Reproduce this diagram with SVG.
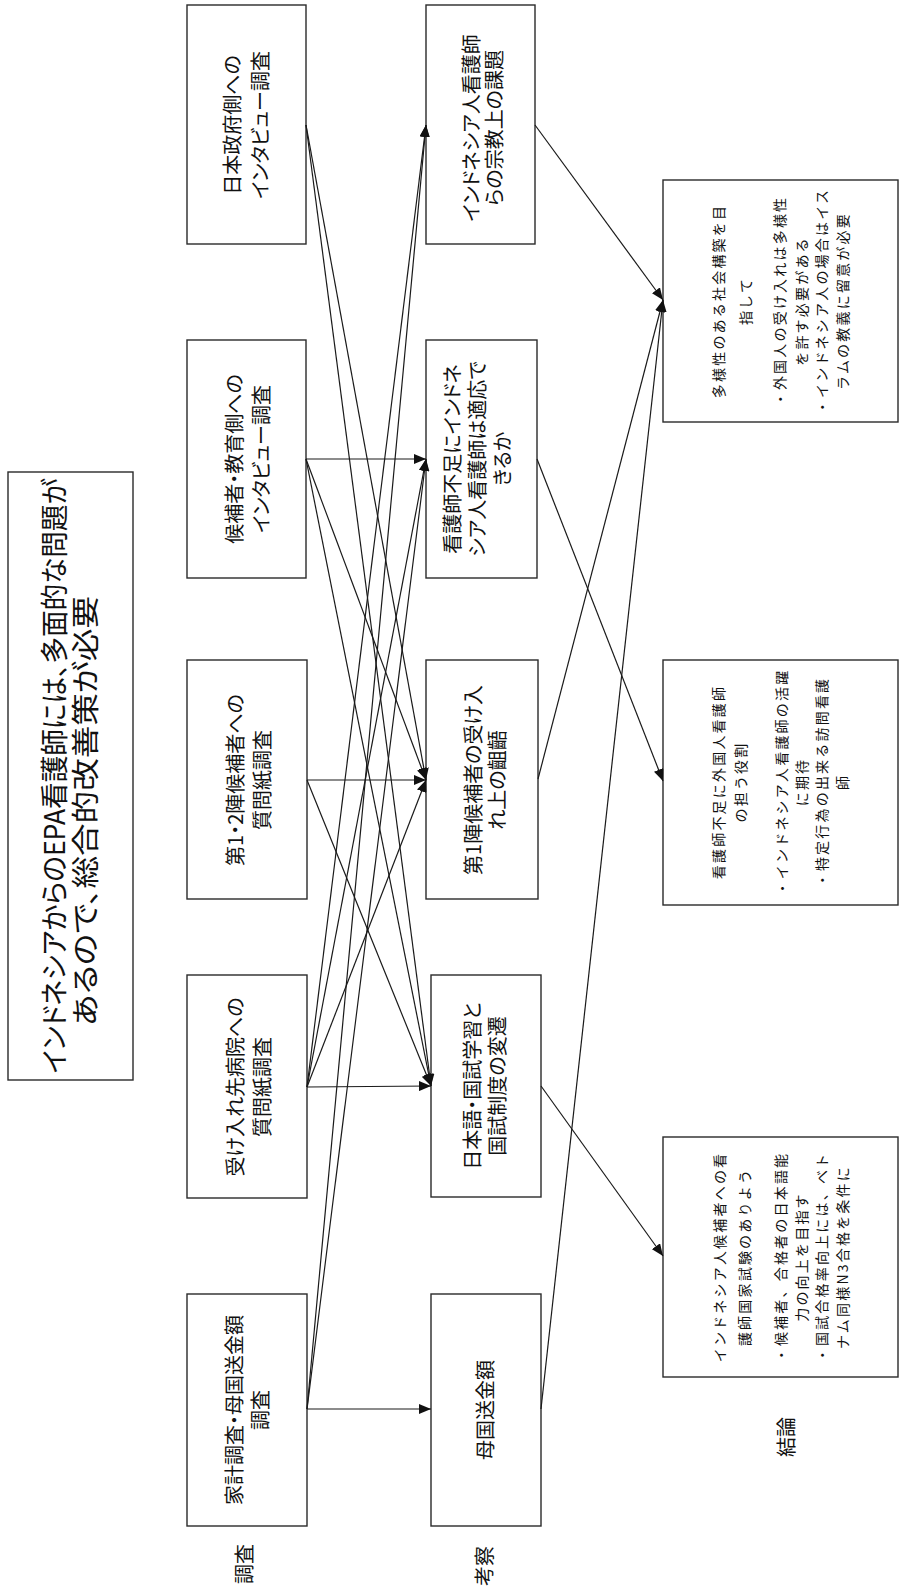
<svg xmlns="http://www.w3.org/2000/svg" width="901" height="1594" viewBox="0 0 901 1594">
<style>
.bg{fill:#fff}
.box{fill:#fff;stroke:#2a2a2a;stroke-width:1.4}
.t{font-family:"Noto Sans CJK JP","Noto Sans CJK SC",sans-serif;fill:#111;text-anchor:middle;font-size:20px;font-feature-settings:"palt"}
.tt{font-size:28px}
.s{font-size:14px;letter-spacing:2.2px;font-feature-settings:normal}
.e{stroke:#1a1a1a;stroke-width:1.2;fill:none;marker-end:url(#ah)}
</style>
<defs>
<marker id="ah" viewBox="0 0 12 10" refX="12" refY="5" markerWidth="12" markerHeight="10" markerUnits="userSpaceOnUse" orient="auto">
<path d="M0,0 L12,5 L0,10 z" fill="#111"/>
</marker>
</defs>
<rect class="bg" x="0" y="0" width="901" height="1594"/>

<g id="title">
<rect class="box" x="8" y="472" width="125" height="608"/>
<text class="t tt" transform="translate(65,776) rotate(-90)" textLength="595" lengthAdjust="spacingAndGlyphs">インドネシアからのEPA看護師には、多面的な問題が</text>
<text class="t tt" transform="translate(96,811) rotate(-90)" textLength="430" lengthAdjust="spacingAndGlyphs">あるので、総合的改善策が必要</text>
</g>

<g id="label-chosa"><text class="t" transform="translate(252,1564) rotate(-90)">調査</text></g>
<g id="label-kosatsu"><text class="t" transform="translate(492,1566) rotate(-90)">考察</text></g>
<g id="label-ketsuron"><text class="t" transform="translate(794,1437) rotate(-90)">結論</text></g>

<g id="s1">
<rect class="box" x="187" y="5" width="119" height="239"/>
<text class="t" transform="translate(239.6,125) rotate(-90)">日本政府側への</text>
<text class="t" transform="translate(267.6,125) rotate(-90)">インタビュー調査</text>
</g>
<g id="s2">
<rect class="box" x="187" y="340" width="119" height="238"/>
<text class="t" transform="translate(241.6,459) rotate(-90)">候補者・教育側への</text>
<text class="t" transform="translate(268.6,459) rotate(-90)">インタビュー調査</text>
</g>
<g id="s3">
<rect class="box" x="187" y="660" width="120" height="239"/>
<text class="t" transform="translate(242.6,780) rotate(-90)">第1・2陣候補者への</text>
<text class="t" transform="translate(269.6,780) rotate(-90)">質問紙調査</text>
</g>
<g id="s4">
<rect class="box" x="187" y="975" width="120" height="223"/>
<text class="t" transform="translate(242.6,1087) rotate(-90)">受け入れ先病院への</text>
<text class="t" transform="translate(269.6,1087) rotate(-90)">質問紙調査</text>
</g>
<g id="s5">
<rect class="box" x="187" y="1294" width="120" height="232"/>
<text class="t" transform="translate(241.6,1410) rotate(-90)">家計調査・母国送金額</text>
<text class="t" transform="translate(267.6,1410) rotate(-90)">調査</text>
</g>

<g id="k1">
<rect class="box" x="426" y="5" width="109" height="239"/>
<text class="t" transform="translate(478.6,128) rotate(-90)">インドネシア人看護師</text>
<text class="t" transform="translate(501.6,128) rotate(-90)">らの宗教上の課題</text>
</g>
<g id="k2">
<rect class="box" x="426" y="340" width="111" height="238"/>
<text class="t" transform="translate(459.6,459) rotate(-90)">看護師不足にインドネ</text>
<text class="t" transform="translate(484.6,459) rotate(-90)">シア人看護師は適応で</text>
<text class="t" transform="translate(509.6,459) rotate(-90)">きるか</text>
</g>
<g id="k3">
<rect class="box" x="426" y="660" width="112" height="239"/>
<text class="t" transform="translate(480.6,780) rotate(-90)">第1陣候補者の受け入</text>
<text class="t" transform="translate(504.6,780) rotate(-90)">れ上の齟齬</text>
</g>
<g id="k4">
<rect class="box" x="431" y="975" width="110" height="222"/>
<text class="t" transform="translate(479.6,1086) rotate(-90)">日本語・国試学習と</text>
<text class="t" transform="translate(504.6,1086) rotate(-90)">国試制度の変遷</text>
</g>
<g id="k5">
<rect class="box" x="431" y="1294" width="110" height="232"/>
<text class="t" transform="translate(492.6,1410) rotate(-90)">母国送金額</text>
</g>

<g id="c1">
<rect class="box" x="663" y="180" width="235" height="242"/>
<text class="t s" transform="translate(724,301) rotate(-90)">多様性のある社会構築を目</text>
<text class="t s" transform="translate(751,301) rotate(-90)">指して</text>
<text class="t s" transform="translate(785,301) rotate(-90)">・外国人の受け入れは多様性</text>
<text class="t s" transform="translate(807,301) rotate(-90)">を許す必要がある</text>
<text class="t s" transform="translate(827,301) rotate(-90)">・インドネシア人の場合はイス</text>
<text class="t s" transform="translate(848,301) rotate(-90)">ラムの教義に留意が必要</text>
</g>
<g id="c2">
<rect class="box" x="663" y="660" width="235" height="245"/>
<text class="t s" transform="translate(724,782) rotate(-90)">看護師不足に外国人看護師</text>
<text class="t s" transform="translate(746,782) rotate(-90)">の担う役割</text>
<text class="t s" transform="translate(787,782) rotate(-90)">・インドネシア人看護師の活躍</text>
<text class="t s" transform="translate(807,782) rotate(-90)">に期待</text>
<text class="t s" transform="translate(827,782) rotate(-90)">・特定行為の出来る訪問看護</text>
<text class="t s" transform="translate(848,782) rotate(-90)">師</text>
</g>
<g id="c3">
<rect class="box" x="663" y="1137" width="235" height="240"/>
<text class="t s" transform="translate(725,1257) rotate(-90)">インドネシア人候補者への看</text>
<text class="t s" transform="translate(750,1257) rotate(-90)">護師国家試験のありよう</text>
<text class="t s" transform="translate(786,1257) rotate(-90)">・候補者、合格者の日本語能</text>
<text class="t s" transform="translate(807,1257) rotate(-90)">力の向上を目指す</text>
<text class="t s" transform="translate(827,1257) rotate(-90)">・国試合格率向上には、ベト</text>
<text class="t s" transform="translate(848,1257) rotate(-90)">ナム同様N3合格を条件に</text>
</g>

<g id="connectors">
<line class="e" x1="306" y1="125" x2="426" y2="780"/>
<line class="e" x1="306" y1="125" x2="431" y2="1086"/>
<line class="e" x1="306" y1="459" x2="426" y2="459"/>
<line class="e" x1="306" y1="459" x2="426" y2="780"/>
<line class="e" x1="306" y1="459" x2="431" y2="1086"/>
<line class="e" x1="307" y1="780" x2="426" y2="780"/>
<line class="e" x1="307" y1="780" x2="431" y2="1086"/>
<line class="e" x1="307" y1="1087" x2="426" y2="125"/>
<line class="e" x1="307" y1="1087" x2="426" y2="459"/>
<line class="e" x1="307" y1="1087" x2="426" y2="780"/>
<line class="e" x1="307" y1="1087" x2="431" y2="1086"/>
<line class="e" x1="307" y1="1409" x2="426" y2="125"/>
<line class="e" x1="307" y1="1409" x2="426" y2="459"/>
<line class="e" x1="307" y1="1409" x2="431" y2="1409"/>
<line class="e" x1="535" y1="125" x2="663" y2="300"/>
<line class="e" x1="537" y1="459" x2="663" y2="781"/>
<line class="e" x1="538" y1="779" x2="663" y2="300"/>
<line class="e" x1="541" y1="1086" x2="663" y2="1256"/>
<line class="e" x1="541" y1="1409" x2="663" y2="300"/>
</g>
</svg>
